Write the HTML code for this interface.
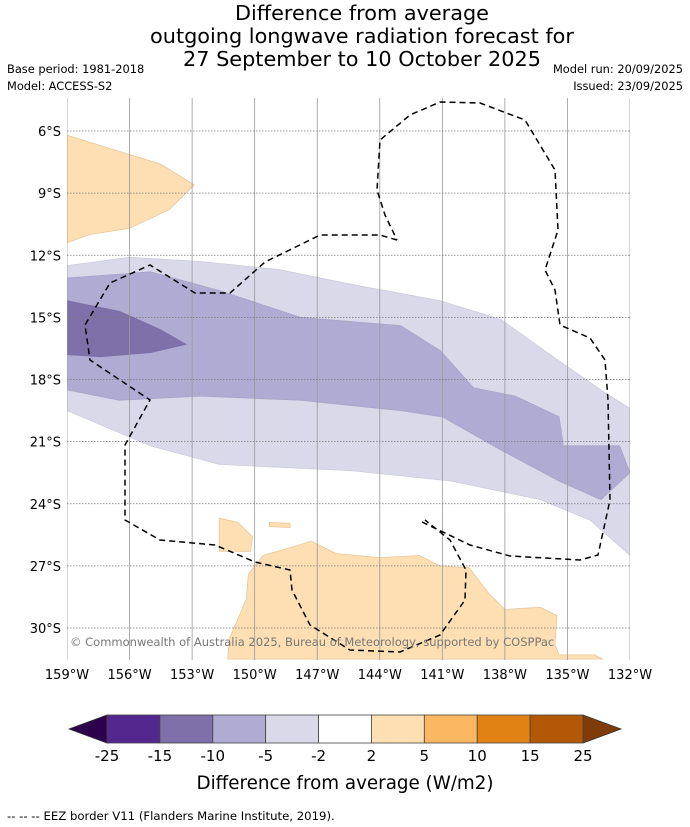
<!DOCTYPE html>
<html><head><meta charset="utf-8"><style>
html,body{margin:0;padding:0;background:#fff;width:690px;height:827px;overflow:hidden}
svg{display:block;font-family:"DejaVu Sans","Liberation Sans",sans-serif}
</style></head><body>
<svg id="s" width="690" height="827" viewBox="0 0 690 827">
<text x="362" y="20" font-size="20.8" text-anchor="middle">Difference from average</text>
<text x="362" y="43" font-size="20.8" text-anchor="middle">outgoing longwave radiation forecast for</text>
<text x="362" y="66" font-size="20.8" text-anchor="middle">27 September to 10 October 2025</text>
<text x="7" y="73" font-size="11.4">Base period: 1981-2018</text>
<text x="7" y="90" font-size="11.4">Model: ACCESS-S2</text>
<text x="683" y="73" font-size="11.4" text-anchor="end">Model run: 20/09/2025</text>
<text x="683" y="90" font-size="11.4" text-anchor="end">Issued: 23/09/2025</text>
<g id="map"></g>
<g id="cb"></g>
<text x="345" y="789" font-size="18.3" text-anchor="middle">Difference from average (W/m2)</text>
<text x="7" y="820" font-size="11.7">--  --  -- EEZ border V11 (Flanders Marine Institute, 2019).</text>
</svg>
<script>
const lonTicks=[-159,-156,-153,-150,-147,-144,-141,-138,-135,-132];
const latTicks=[-6,-9,-12,-15,-18,-21,-24,-27,-30];
const levels=[-25,-15,-10,-5,-2,2,5,10,15,25];
const levelColors=["#54278f","#7e71aa","#b0abd2","#d9d9ea","#ffffff","#fddfb3","#fbb761","#e08214","#b35806"];
const extendColors=["#2d004b","#7f3b08"];
const lightBand=[[-159,-12.5],[-156,-12.1],[-152.6,-12.3],[-148.8,-12.7],[-145.4,-13.4],[-141.1,-14.2],[-138.2,-15.1],[-135.4,-17.1],[-133.4,-18.5],[-132,-19.4],[-132,-26.5],[-133.9,-24.8],[-136.3,-23.8],[-140.6,-22.9],[-145.4,-22.4],[-151.7,-22.1],[-155,-21.2],[-159,-19.5]];
const midBand=[[-159,-13.1],[-155,-12.8],[-151.7,-13.7],[-147.8,-15],[-143,-15.4],[-141.1,-16.6],[-139.5,-18.4],[-137.5,-18.8],[-135.4,-19.8],[-135.2,-21.2],[-132.5,-21.2],[-132,-22.5],[-133.4,-23.8],[-135.4,-22.9],[-138.2,-21.4],[-141,-19.8],[-143,-19.5],[-147.8,-19],[-152.6,-18.8],[-156.5,-19],[-159,-18.5]];
const darkBand=[[-159,-14.2],[-156.5,-14.7],[-154.5,-15.6],[-153.3,-16.3],[-155,-16.7],[-157.4,-16.9],[-159,-16.8]];
const orangeNW=[[-159,-6.2],[-157.4,-6.7],[-154.5,-7.6],[-152.9,-8.6],[-154.1,-9.8],[-156,-10.7],[-157.9,-11],[-159,-11.4]];
const orangeS=[[-151.3,-31.5],[-151.2,-30.5],[-150.4,-28.6],[-150.3,-27.4],[-149.6,-26.5],[-147.9,-26],[-147.3,-25.8],[-146.1,-26.4],[-144,-26.6],[-142.1,-26.5],[-141.1,-27],[-139.7,-27.1],[-138.8,-28.3],[-138,-29.1],[-136.3,-29],[-135.5,-29.4],[-135.6,-30.8],[-135.4,-31.3],[-133.7,-31.3],[-133.3,-31.5]];
const orangeSmall=[[-151.7,-24.7],[-150.8,-24.9],[-150.1,-25.6],[-150.2,-26.3],[-151.7,-26.3]];
const orangeTiny=[[-149.3,-24.9],[-148.3,-24.95],[-148.3,-25.15],[-149.3,-25.1]];
const X0=67,X1=630,Y0=98,Y1=660;
const px=lon=>X0+(lon+159)*(X1-X0)/27;
const py=lat=>131+(-lat-6)*(628-131)/24;
const NS="http://www.w3.org/2000/svg";
function mk(tag,attrs,parent){const e=document.createElementNS(NS,tag);for(const k in attrs)e.setAttribute(k,attrs[k]);parent.appendChild(e);return e;}
const map=document.getElementById('map');
const clipDefs=mk('defs',{},map);
const cp=mk('clipPath',{id:'clip'},clipDefs);
mk('rect',{x:X0,y:Y0,width:X1-X0,height:Y1-Y0},cp);
const g=mk('g',{'clip-path':'url(#clip)'},map);
function poly(arr,fill,stroke,name){const e=mk('polygon',{points:arr.map(p=>px(p[0]).toFixed(1)+','+py(p[1]).toFixed(1)).join(' '),fill:fill,stroke:stroke,'stroke-width':0.8},g);

}
poly(lightBand,levelColors[3],"#ccccdd","contour-minus2-to-minus5");
poly(midBand,levelColors[2],"#a8a4c8","contour-minus5-to-minus10");
poly(darkBand,levelColors[1],"#7a6ea5","contour-minus10-to-minus15");
poly(orangeNW,levelColors[5],"#e8c89a","contour-positive-northwest");
poly(orangeS,levelColors[5],"#e8c89a","contour-positive-south");
poly(orangeSmall,levelColors[5],"#e8c89a","contour-positive-small");
poly(orangeTiny,levelColors[5],"#e8c89a","contour-positive-tiny");
lonTicks.forEach(l=>{const e=mk('line',{x1:px(l),x2:px(l),y1:Y0,y2:Y1,stroke:"#999",'stroke-width':0.8},g);

});
latTicks.forEach(l=>{const e=mk('line',{x1:X0,x2:X1,y1:py(l),y2:py(l),stroke:"#777",'stroke-width':0.8,'stroke-dasharray':'1.5 1.5'},g);

});
const eez=mk('path',{d:"M397,240 L380,235 L320,235 L310,240 L265,262 L230,293 L195,293 L150,265 L110,283 L85,325 L90,360 L150,400 L125,445 L125,520 L160,540 L215,545 L255,562 L290,570 L292,590 L310,625 L350,650 L400,652 L440,635 L465,600 L466,570 L450,540 L425,520 M422,522 L470,545 L510,556 L580,560 L598,555 L610,500 L608,400 L605,360 L590,338 L560,325 L555,290 L545,270 L558,230 L555,170 L525,120 L480,103 L440,102 L410,115 L380,140 L377,190 L385,215 L397,240",fill:"none",stroke:"#000",'stroke-width':1.5,'stroke-dasharray':'6 4'},g);


const cr=mk('text',{x:70,y:646,'font-size':11.5,fill:"#777"},g);cr.textContent="© Commonwealth of Australia 2025, Bureau of Meteorology, supported by COSPPac";


latTicks.forEach(l=>{const t=mk('text',{x:61,y:py(l)+5,'font-size':13,'text-anchor':'end'},map);t.textContent=(-l)+"°S";

});
lonTicks.forEach(l=>{const t=mk('text',{x:px(l),y:679,'font-size':13,'text-anchor':'middle'},map);t.textContent=(-l)+"°W";

});
const cb=document.getElementById('cb');
const cbx0=107,cbx1=583,cby0=715,cby1=743,bw=(cbx1-cbx0)/(levels.length-1);
const tl=mk('polygon',{points:`${cbx0},${cby0} 69,${(cby0+cby1)/2} ${cbx0},${cby1}`,fill:extendColors[0],stroke:"#333",'stroke-width':0.8},cb);


const tr=mk('polygon',{points:`${cbx1},${cby0} 621,${(cby0+cby1)/2} ${cbx1},${cby1}`,fill:extendColors[1],stroke:"#333",'stroke-width':0.8},cb);


levelColors.forEach((c,i)=>{const r=mk('rect',{x:cbx0+i*bw,y:cby0,width:bw,height:cby1-cby0,fill:c,stroke:"#444",'stroke-width':0.8},cb);

});
levels.forEach((v,i)=>{const t=mk('text',{x:cbx0+i*bw,y:761,'font-size':15,'text-anchor':'middle'},cb);t.textContent=v;

});
</script>
</body></html>
